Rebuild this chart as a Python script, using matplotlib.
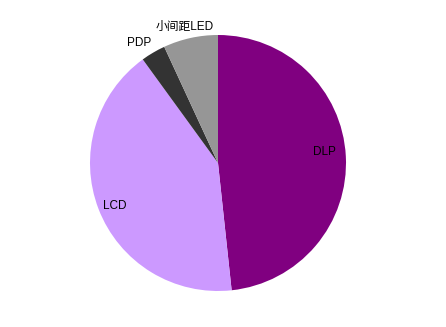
import numpy as np
import matplotlib
matplotlib.use("Agg")
import matplotlib.pyplot as plt

plt.rcParams['font.family'] = ['Liberation Sans', 'Noto Sans CJK SC', 'DejaVu Sans']

labels = ["DLP", "LCD", "PDP", "小间距LED"]
shares = [48.3, 41.7, 3.1, 6.9]
colors = ["#800080", "#CC99FF", "#333333", "#969696"]
label_dist = [0.84, 0.87, 1.125, 1.09]
label_shift = [3.0, 1.6, 3.0, 1.3]  # degrees, nudges label off the mid angle

fig = plt.figure(figsize=(4.46, 3.27), dpi=100)
ax = fig.add_axes([90 / 446, 36 / 327, 256 / 446, 256 / 327])

wedges, texts = ax.pie(shares, colors=colors, startangle=90, counterclock=False,
                       labels=labels, radius=1.0,
                       wedgeprops=dict(linewidth=0))
# put each label along its wedge's mid angle
for w, t, d, s in zip(wedges, texts, label_dist, label_shift):
    mid = np.deg2rad((w.theta1 + w.theta2) / 2 + s)
    t.set_position((d * np.cos(mid), d * np.sin(mid)))
    t.set_ha('center')
    t.set_va('center')
    t.set_fontsize(8.5)
    t.set_color('black')

ax.set_xlim(-1, 1)
ax.set_ylim(-1, 1)
ax.set_aspect('auto')
ax.axis('off')

fig.savefig("out.png", dpi=100)
